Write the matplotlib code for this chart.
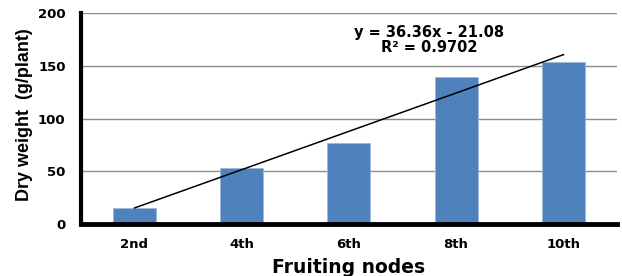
import numpy as np
import matplotlib.pyplot as plt

# ---- data ----
nodes = ['2nd', '4th', '6th', '8th', '10th']
dry_weight = [15, 53, 77, 140, 154]
slope, intercept = 36.36, -21.08
r2 = 0.9702

# ---- figure ----
fig = plt.figure(figsize=(6.22, 2.76), dpi=100)
ax = fig.add_axes([0.130, 0.188, 0.862, 0.764])

x = np.arange(1, len(nodes) + 1)
ax.bar(x, dry_weight, width=0.4, color='#4F81BD', edgecolor='#9DB9DC',
       linewidth=0.6, zorder=2)

# linear trend line
trend = slope * x + intercept
ax.plot([x[0], x[-1]], [trend[0], trend[-1]], color='black', linewidth=1.1, zorder=3)
ax.text(3.75, 189, f'y = {slope}x - {abs(intercept)}\nR² = {r2}',
        ha='center', va='top', fontsize=10.5, fontweight='bold',
        family='DejaVu Sans', linespacing=1.05)

ax.set_xlim(0.5, len(nodes) + 0.5)
ax.set_ylim(0, 200)
ax.set_yticks([0, 50, 100, 150, 200])
ax.set_xticks(x)
ax.set_xticklabels(nodes)
ax.yaxis.grid(True, color='#8c8c8c', linewidth=1.0, zorder=0)
ax.set_axisbelow(True)

for s in ['top', 'right']:
    ax.spines[s].set_visible(False)
ax.spines['left'].set_linewidth(3)
ax.spines['bottom'].set_linewidth(3.5)
ax.tick_params(length=0, labelsize=9.5)
ax.tick_params(axis='x', pad=10)
ax.tick_params(axis='y', pad=11)
for lab in ax.get_xticklabels() + ax.get_yticklabels():
    lab.set_fontweight('bold')

ax.set_xlabel('Fruiting nodes', fontsize=13.5, fontweight='bold',
              family='DejaVu Sans', labelpad=5)
ax.set_ylabel('Dry weight  (g/plant)', fontsize=13, fontweight='bold',
              family='Liberation Sans')
ax.yaxis.set_label_coords(-0.09, 0.52)

fig.savefig('out.png', dpi=100)
